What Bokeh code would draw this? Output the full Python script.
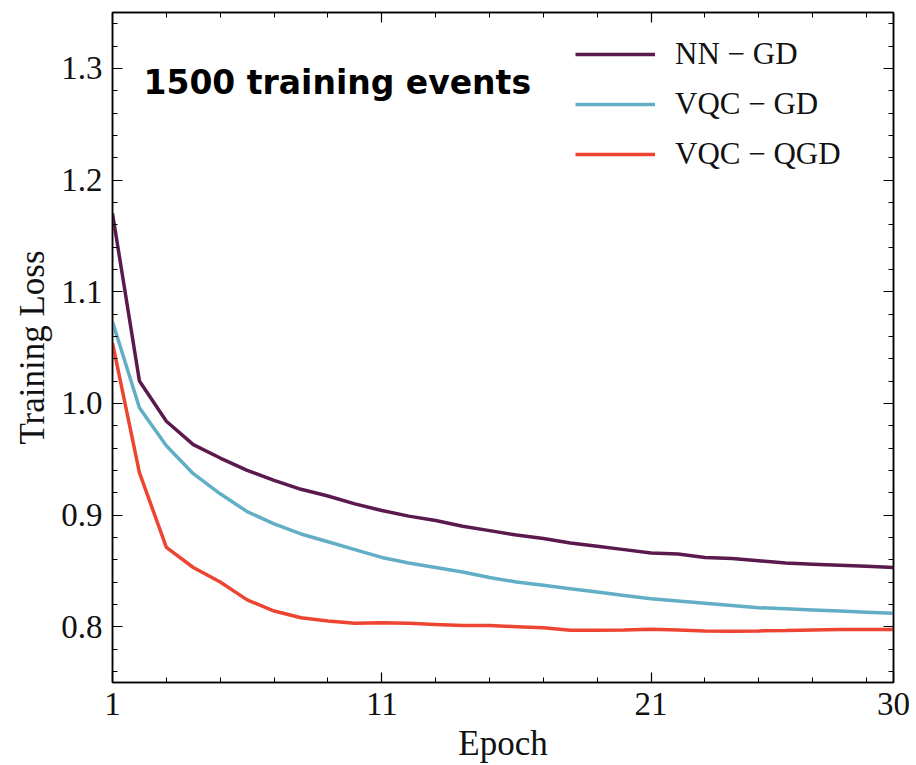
from bokeh.plotting import figure
from bokeh.models import (FixedTicker, LinearAxis, Range1d, Legend, LegendItem, Label,
                          NumeralTickFormatter)
from bokeh.embed import file_html
from bokeh.resources import INLINE

epochs = list(range(1, 31))
nn_gd = [1.170, 1.020, 0.984, 0.963, 0.951, 0.940, 0.931, 0.923, 0.917, 0.910,
         0.904, 0.899, 0.895, 0.890, 0.886, 0.882, 0.879, 0.875, 0.872, 0.869,
         0.866, 0.865, 0.862, 0.861, 0.859, 0.857, 0.856, 0.855, 0.854, 0.853]
vqc_gd = [1.073, 0.996, 0.962, 0.937, 0.919, 0.903, 0.892, 0.883, 0.876, 0.869,
          0.862, 0.857, 0.853, 0.849, 0.844, 0.840, 0.837, 0.834, 0.831, 0.828,
          0.825, 0.823, 0.821, 0.819, 0.817, 0.816, 0.815, 0.814, 0.813, 0.812]
vqc_qgd = [1.054, 0.938, 0.871, 0.853, 0.840, 0.824, 0.814, 0.808, 0.805, 0.803,
           0.8036, 0.803, 0.802, 0.801, 0.801, 0.800, 0.799, 0.7967, 0.7967, 0.797,
           0.7976, 0.797, 0.7962, 0.796, 0.7962, 0.7965, 0.797, 0.7975, 0.7975, 0.7975]

series_names = ["NN \u2212 GD", "VQC \u2212 GD", "VQC \u2212 QGD"]
series_colors = ["#5B1A4D", "#62AEC5", "#EE4532"]
x_ticks = [1, 11, 21, 30]
x_minor = [3, 5, 7, 9, 13, 15, 17, 19, 23, 25, 27, 29]
y_ticks = [0.8, 0.9, 1.0, 1.1, 1.2, 1.3]
y_minor = [round(0.76 + 0.02 * i, 2) for i in range(30)]
annotation = "1500 training events"

FONT = "Liberation Serif"

p = figure(width=916, height=765, output_backend="svg", toolbar_location=None,
           x_range=Range1d(1, 30), y_range=Range1d(0.75, 1.35),
           min_border_left=112, min_border_right=23, min_border_top=12,
           min_border_bottom=81, x_axis_location=None, y_axis_location=None)
p.grid.visible = False
p.outline_line_color = "black"
p.outline_line_width = 1.5

def style_axis(ax, ticks, minor, show_labels, label=None, fmt=None):
    ax.ticker = FixedTicker(ticks=ticks, minor_ticks=minor)
    if fmt:
        ax.formatter = NumeralTickFormatter(format=fmt)
    ax.major_tick_in = 10
    ax.major_tick_out = 0
    ax.minor_tick_in = 5
    ax.minor_tick_out = 0
    ax.axis_line_color = "black"
    ax.axis_line_width = 1.5
    ax.major_tick_line_width = 1.2
    ax.minor_tick_line_width = 1.0
    if show_labels:
        ax.major_label_text_font = FONT
        ax.major_label_text_font_size = "33px"
        ax.major_label_text_color = "#111111"
        ax.major_label_standoff = 10
    else:
        ax.major_label_text_font_size = "0px"
        ax.major_label_text_alpha = 0
    if label:
        ax.axis_label = label
        ax.axis_label_text_font = FONT
        ax.axis_label_text_font_size = "35px"
        ax.axis_label_text_font_style = "normal"
        ax.axis_label_text_color = "#111111"
        ax.axis_label_standoff = 6

xb = LinearAxis()
style_axis(xb, x_ticks, x_minor, True, "Epoch", "0")
p.add_layout(xb, "below")
xt = LinearAxis()
style_axis(xt, x_ticks, x_minor, False)
p.add_layout(xt, "above")
yl = LinearAxis()
style_axis(yl, y_ticks, y_minor, True, "Training Loss", "0.0")
p.add_layout(yl, "left")
yr = LinearAxis()
style_axis(yr, y_ticks, y_minor, False)
p.add_layout(yr, "right")

items = []
for name, col, ys in zip(series_names, series_colors, [nn_gd, vqc_gd, vqc_qgd]):
    r = p.line(epochs, ys, line_color=col, line_width=3.5)
    items.append(LegendItem(label=name, renderers=[r]))

legend = Legend(items=items, location=(463, 508), glyph_width=80, glyph_height=40,
                label_height=40, spacing=10, label_standoff=20,
                label_text_font=FONT, label_text_font_size="31px",
                label_text_color="#111111",
                border_line_color=None, background_fill_alpha=0, padding=10)
p.add_layout(legend, "center")

lab = Label(x=2.15, y=1.2875, text=annotation, text_font="DejaVu Sans",
            text_font_style="bold", text_font_size="33px", text_baseline="middle",
            text_color="black")
p.add_layout(lab)

open("out.html", "w").write(file_html(p, INLINE))
